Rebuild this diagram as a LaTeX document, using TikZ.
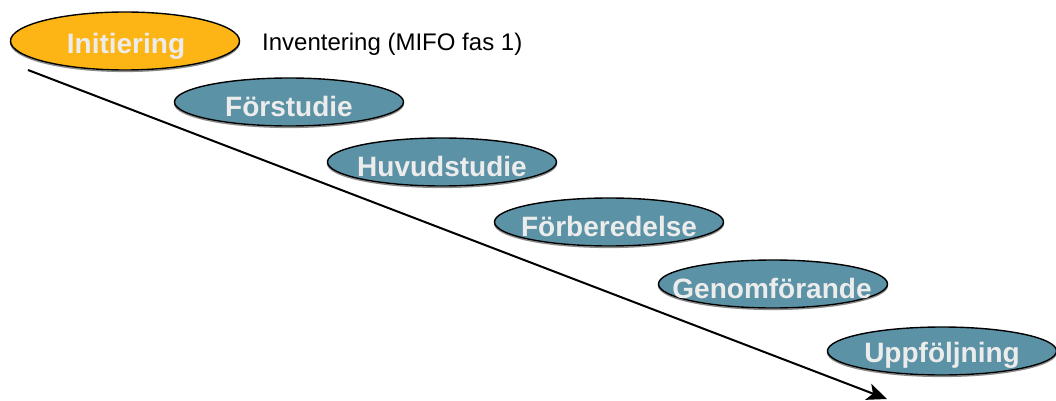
\documentclass[tikz,border=0pt]{standalone}
\usepackage{fontspec}
\setmainfont{Liberation Sans}
\usetikzlibrary{shapes.geometric,arrows.meta}
\definecolor{phaseorange}{RGB}{253,181,21}
\definecolor{phaseteal}{RGB}{91,146,165}
\definecolor{phasetext}{RGB}{236,236,236}
\tikzset{
  phase/.style={ellipse, draw=black, line width=1.4pt, inner sep=0pt,
    minimum width=229pt, minimum height=48pt, fill=phaseteal,
    preaction={draw=black!45, line width=1.4pt, transform canvas={shift={(0pt,-1.4pt)}}}},
  phaselabel/.style={text=phasetext, inner sep=0pt,
    font=\fontsize{28}{30}\selectfont\bfseries},
  note/.style={anchor=west, inner sep=0pt, font=\fontsize{24}{26}\selectfont}
}
\begin{document}
\begin{tikzpicture}[x=1pt,y=-1pt]
\useasboundingbox (0,0) rectangle (1056,401);
\coordinate (arrowstart) at (28,70);
\coordinate (arrowend) at (887,399);
\draw[line width=2pt, -{Stealth[length=20pt,width=17pt,inset=5pt]}] (arrowstart) -- (arrowend);

\node[phase, fill=phaseorange, minimum height=58pt] (initiering) at (125,41) {};
\node[phaselabel] (initieringtext) at (126,46) {Initiering};
\node[note] (inventering) at (262,44) {Inventering (MIFO fas 1)};

\node[phase] (forstudie) at (289,102) {};
\node[phaselabel] (forstudietext) at (289,106) {Förstudie};

\node[phase] (huvudstudie) at (442,162) {};
\node[phaselabel] (huvudstudietext) at (442,166) {Huvudstudie};

\node[phase] (forberedelse) at (609,222) {};
\node[phaselabel] (forberedelsetext) at (609,226) {Förberedelse};

\node[phase] (genomforande) at (773,284) {};
\node[phaselabel] (genomforandetext) at (772,288) {Genomförande};

\node[phase] (uppfoljning) at (942,351) {};
\node[phaselabel] (uppfoljningtext) at (942,355) {Uppföljning};
\end{tikzpicture}
\end{document}
